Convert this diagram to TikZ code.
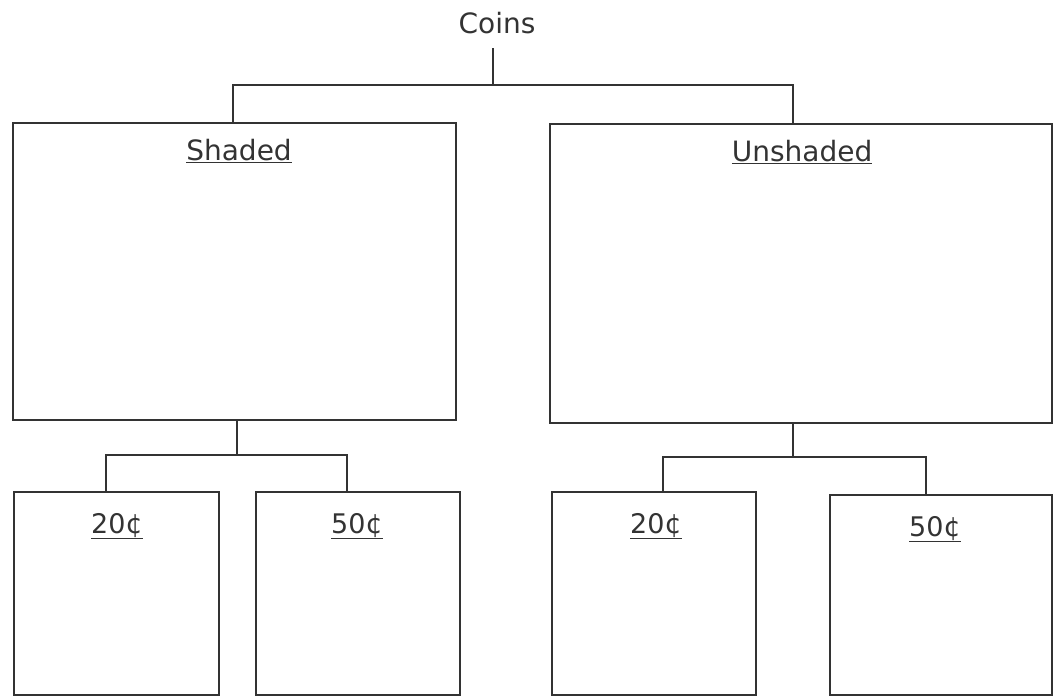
\documentclass[tikz,border=0pt]{standalone}
\usepackage{fontspec}
\setmainfont{DejaVu Sans}
\begin{document}
\begin{tikzpicture}[x=1pt,y=-1pt,
  ink/.style={draw=black!80, line width=1.2pt},
  box/.style={ink, rectangle, inner sep=0pt, fill=none},
  lbl/.style={text=black!80, font=\fontsize{28}{32}\selectfont, inner sep=0pt, anchor=base},
  sml/.style={text=black!80, font=\fontsize{27}{31}\selectfont, inner sep=0pt, anchor=base},
  ttl/.style={text=black!80, font=\fontsize{28}{32}\selectfont, inner sep=0pt, anchor=base},
  link/.style={ink}]
\useasboundingbox (0,0) rectangle (1056,697);
% title
\node[ttl] (coins) at (497,33) {Coins};
% level-1 boxes
\node[box, minimum width=443pt, minimum height=297pt] (shaded) at (234.5,271.5) {};
\node[box, minimum width=502pt, minimum height=299pt] (unshaded) at (801,273.5) {};
% level-2 boxes
\node[box, minimum width=205pt, minimum height=203pt] (l20) at (116.5,593.5) {};
\node[box, minimum width=204pt, minimum height=203pt] (l50) at (358,593.5) {};
\node[box, minimum width=204pt, minimum height=203pt] (r20) at (654,593.5) {};
\node[box, minimum width=222pt, minimum height=200pt] (r50) at (941,595) {};
% labels
\node[lbl] (tshaded) at (239,160) {\underline{Shaded}};
\node[lbl] (tunshaded) at (802,161) {\underline{Unshaded}};
\node[sml] (tl20) at (117,533) {\underline{20¢}};
\node[sml] (tl50) at (357,533) {\underline{50¢}};
\node[sml] (tr20) at (656,533) {\underline{20¢}};
\node[sml] (tr50) at (935,536) {\underline{50¢}};
% junction coordinates
\coordinate (j0) at (493,85);
\coordinate (j1) at (237,455);
\coordinate (j2) at (793,457);
% connectors level 1
\draw[link] (j0 |- 0,48) coordinate (c0) -- (j0);
\draw[link] ([xshift=-1.5pt]shaded.north) |- (j0) -| ([xshift=-8pt]unshaded.north);
% connectors level 2 (left)
\draw[link] (shaded.south -| j1) -- (j1);
\draw[link] ([xshift=-10.5pt]l20.north) |- (j1) -| ([xshift=-11pt]l50.north);
% connectors level 2 (right)
\draw[link] (unshaded.south -| j2) -- (j2);
\draw[link] ([xshift=9pt]r20.north) |- (j2) -| ([xshift=-15pt]r50.north);
\end{tikzpicture}
\end{document}
